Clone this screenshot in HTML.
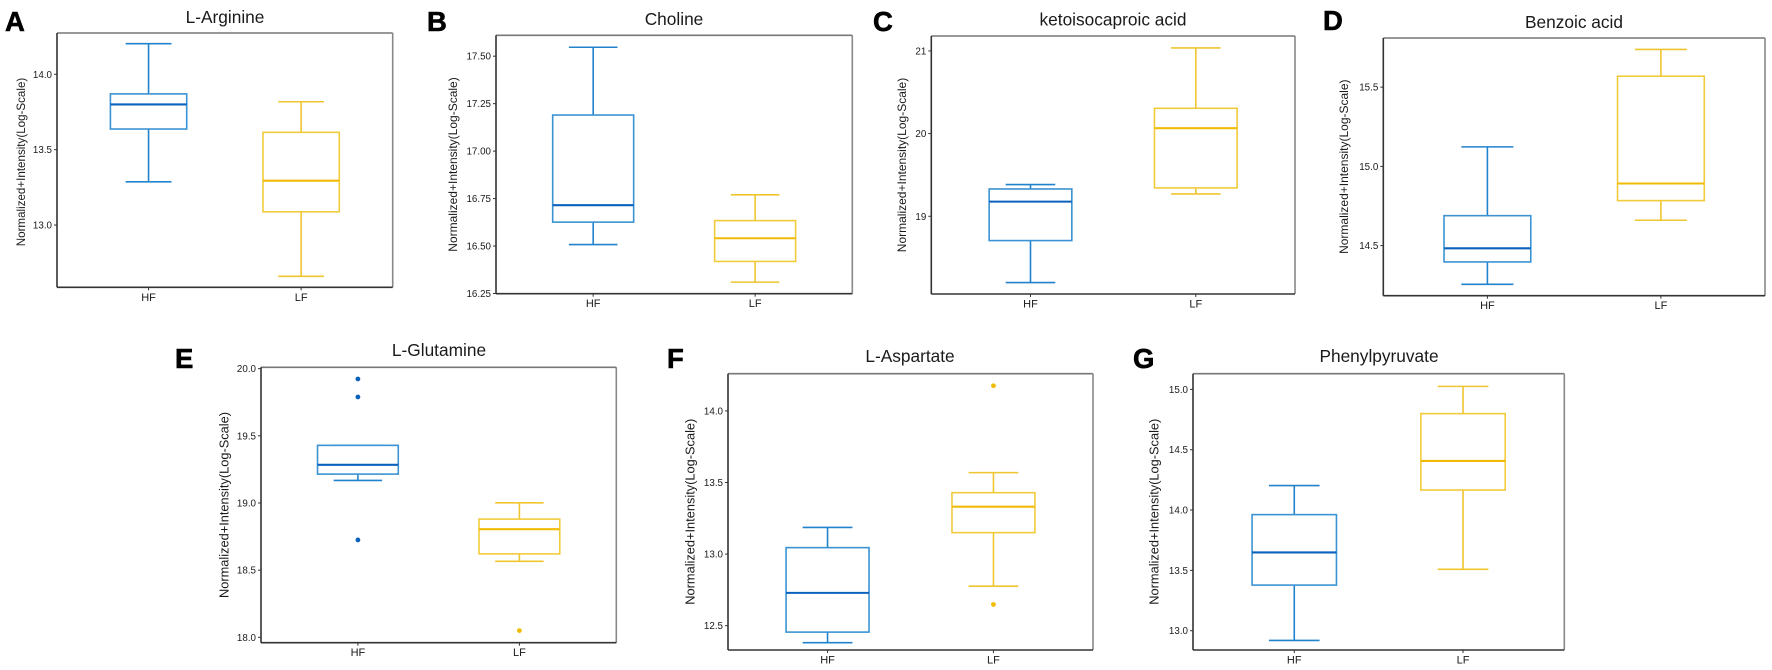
<!DOCTYPE html>
<html lang="en">
<head>
<meta charset="utf-8">
<title>Metabolite box plots</title>
<style>
html,body{margin:0;padding:0;background:#fff;}
#figure{display:block;width:1772px;height:670px;background:#fff;font-family:"Liberation Sans",sans-serif;filter:blur(0.3px);}
text{font-family:"Liberation Sans",sans-serif;fill:#1a1a1a;}
text.panel-letter{fill:#000;stroke:#000;stroke-width:0.6px;}
</style>
</head>
<body>
<svg id="figure" xmlns="http://www.w3.org/2000/svg" width="1772" height="670" viewBox="0 0 1772 670"></svg>
<script>
// Shared categories
const categories = ["HF", "LF"];

// Each series is [lowerWhisker, q1, median, q3, upperWhisker]
const argTitle = "L-Arginine";
const argTicks = ["13.0", "13.5", "14.0"];
const argDomain = [12.587, 14.274];
const argHF = [13.287, 13.637, 13.80, 13.87, 14.203];
const argLF = [12.66, 13.088, 13.294, 13.615, 13.818];
const argOutHF = [];
const argOutLF = [];

const choTitle = "Choline";
const choTicks = ["16.25", "16.50", "16.75", "17.00", "17.25", "17.50"];
const choDomain = [16.249, 17.61];
const choHF = [16.508, 16.626, 16.715, 17.19, 17.547];
const choLF = [16.31, 16.419, 16.541, 16.634, 16.77];
const choOutHF = [];
const choOutLF = [];

const ketoTitle = "ketoisocaproic acid";
const ketoTicks = ["19", "20", "21"];
const ketoDomain = [18.06, 21.18];
const ketoHF = [18.198, 18.706, 19.177, 19.33, 19.383];
const ketoLF = [19.27, 19.343, 20.065, 20.306, 21.036];
const ketoOutHF = [];
const ketoOutLF = [];

const benzTitle = "Benzoic acid";
const benzTicks = ["14.5", "15.0", "15.5"];
const benzDomain = [14.184, 15.81];
const benzHF = [14.256, 14.397, 14.483, 14.689, 15.123];
const benzLF = [14.66, 14.784, 14.892, 15.569, 15.738];
const benzOutHF = [];
const benzOutLF = [];

const glnTitle = "L-Glutamine";
const glnTicks = ["18.0", "18.5", "19.0", "19.5", "20.0"];
const glnDomain = [17.96, 20.01];
const glnHF = [19.168, 19.215, 19.284, 19.429, 19.429];
const glnLF = [18.566, 18.621, 18.805, 18.88, 19.001];
const glnOutHF = [19.923, 19.789, 18.725];
const glnOutLF = [18.05];

const aspTitle = "L-Aspartate";
const aspTicks = ["12.5", "13.0", "13.5", "14.0"];
const aspDomain = [12.33, 14.26];
const aspHF = [12.381, 12.455, 12.729, 13.045, 13.186];
const aspLF = [12.776, 13.15, 13.331, 13.429, 13.569];
const aspOutHF = [];
const aspOutLF = [14.176, 12.648];

const pheTitle = "Phenylpyruvate";
const pheTicks = ["13.0", "13.5", "14.0", "14.5", "15.0"];
const pheDomain = [12.84, 15.13];
const pheHF = [12.919, 13.378, 13.649, 13.962, 14.203];
const pheLF = [13.509, 14.166, 14.407, 14.799, 15.025];
const pheOutHF = [];
const pheOutLF = [];

const SVGNS = "http://www.w3.org/2000/svg";
const svg = document.getElementById("figure");

function mk(tag, parent, attrs) {
  const n = document.createElementNS(SVGNS, tag);
  for (const k in attrs) n.setAttribute(k, attrs[k]);
  parent.appendChild(n);
  return n;
}

function makeX(frame) {
  // discrete ggplot-style axis: 0.4 .. 2.6
  const unit = (frame.right - frame.left) / 2.2;
  return function (pos) { return frame.left + (pos - 0.4) * unit; };
}

function makeY(frame, domain) {
  return function (v) {
    return frame.bottom - (v - domain[0]) / (domain[1] - domain[0]) * (frame.bottom - frame.top);
  };
}

function drawBox(g, stats, outliers, pos, x, y, colors) {
  const cx = x(pos);
  const bl = x(pos - 0.25), br = x(pos + 0.25);
  const cl = x(pos - 0.15), cr = x(pos + 0.15);

  const upper = mk("line", g, {x1: cx, x2: cx, y1: y(stats[3]), y2: y(stats[4]), stroke: colors.whisker, "stroke-width": 1.6});
  
  

  const lower = mk("line", g, {x1: cx, x2: cx, y1: y(stats[1]), y2: y(stats[0]), stroke: colors.whisker, "stroke-width": 1.6});
  
  

  const capTop = mk("line", g, {x1: cl, x2: cr, y1: y(stats[4]), y2: y(stats[4]), stroke: colors.whisker, "stroke-width": 1.6});
  
  

  const capBottom = mk("line", g, {x1: cl, x2: cr, y1: y(stats[0]), y2: y(stats[0]), stroke: colors.whisker, "stroke-width": 1.6});
  
  

  const rect = mk("rect", g, {x: bl, width: br - bl, y: y(stats[3]), height: y(stats[1]) - y(stats[3]), fill: "#fff", stroke: colors.box, "stroke-width": 1.6});
  
  

  const med = mk("line", g, {x1: bl, x2: br, y1: y(stats[2]), y2: y(stats[2]), stroke: colors.median, "stroke-width": 2.1});
  
  

  outliers.forEach(function (v) {
    const dot = mk("circle", g, {cx: cx, cy: y(v), r: 2.4, fill: colors.median});
    
    
  });
}

const blue = {box: "#3b93d3", whisker: "#2283cd", median: "#0a62bd"};
const yellow = {box: "#f2cb3c", whisker: "#efc530", median: "#f0bb06"};

function drawPanel(p) {
  const f = p.frame;
  const x = makeX(f);
  const y = makeY(f, p.domain);

  const g = mk("g", svg, {});
  
  

  const letter = mk("text", g, {x: p.letterX, y: p.letterY, "font-size": 27.5, "font-weight": "bold", class: "panel-letter"});
  
  
  letter.textContent = p.letter;

  const title = mk("text", g, {x: p.titleX, y: p.titleY, "font-size": 17.3, "text-anchor": "middle"});
  
  
  title.textContent = p.title;

  const yTitle = mk("text", g, {transform: "translate(" + p.yTitleX + "," + p.yTitleY + ") rotate(-90)", "font-size": p.yTitleSize, "text-anchor": "middle", "dominant-baseline": "central"});
  
  
  yTitle.textContent = "Normalized+Intensity(Log-Scale)";

  const topLine = mk("line", g, {x1: f.left, x2: f.right, y1: f.top, y2: f.top, stroke: "#777", "stroke-width": 1.6});
  
  

  const rightLine = mk("line", g, {x1: f.right, x2: f.right, y1: f.top, y2: f.bottom, stroke: "#888", "stroke-width": 1.6});
  
  

  const leftLine = mk("line", g, {x1: f.left, x2: f.left, y1: f.top, y2: f.bottom, stroke: "#333", "stroke-width": 1.6});
  
  

  const bottomLine = mk("line", g, {x1: f.left, x2: f.right, y1: f.bottom, y2: f.bottom, stroke: "#333", "stroke-width": 1.6});
  
  

  p.ticks.forEach(function (label) {
    const ty = y(parseFloat(label));
    const t = mk("line", g, {x1: f.left - 3, x2: f.left, y1: ty, y2: ty, stroke: "#333", "stroke-width": 1});
    
    
    const tl = mk("text", g, {x: f.left - 5, y: ty + 3.5, "font-size": 9.8, "text-anchor": "end"});
    
    
    tl.textContent = label;
  });

  categories.forEach(function (cat, i) {
    const cx = x(i + 1);
    const t = mk("line", g, {x1: cx, x2: cx, y1: f.bottom, y2: f.bottom + 3, stroke: "#333", "stroke-width": 1});
    
    
    const tl = mk("text", g, {x: cx, y: f.bottom + 13.5, "font-size": 11, "text-anchor": "middle"});
    
    
    tl.textContent = cat;
  });

  const hf = mk("g", g, {});
  
  
  drawBox(hf, p.hf, p.outHF, 1, x, y, blue);

  const lf = mk("g", g, {});
  
  
  drawBox(lf, p.lf, p.outLF, 2, x, y, yellow);
}

drawPanel({letter: "A", letterX: 5, letterY: 31, title: argTitle, titleX: 225, titleY: 23,
  yTitleX: 21.5, yTitleY: 162, yTitleSize: 11.6, frame: {left: 57, right: 392.7, top: 33, bottom: 287.3},
  domain: argDomain, ticks: argTicks, hf: argHF, lf: argLF, outHF: argOutHF, outLF: argOutLF});

drawPanel({letter: "B", letterX: 427, letterY: 31, title: choTitle, titleX: 674, titleY: 25,
  yTitleX: 453, yTitleY: 164.5, yTitleSize: 12, frame: {left: 496, right: 852.3, top: 35.3, bottom: 293.7},
  domain: choDomain, ticks: choTicks, hf: choHF, lf: choLF, outHF: choOutHF, outLF: choOutLF});

drawPanel({letter: "C", letterX: 873, letterY: 31, title: ketoTitle, titleX: 1113, titleY: 25.5,
  yTitleX: 902, yTitleY: 165, yTitleSize: 12, frame: {left: 931.3, right: 1295, top: 36, bottom: 294},
  domain: ketoDomain, ticks: ketoTicks, hf: ketoHF, lf: ketoLF, outHF: ketoOutHF, outLF: ketoOutLF});

drawPanel({letter: "D", letterX: 1323, letterY: 30, title: benzTitle, titleX: 1574, titleY: 28,
  yTitleX: 1344, yTitleY: 166.7, yTitleSize: 12, frame: {left: 1383.3, right: 1765, top: 38, bottom: 295.7},
  domain: benzDomain, ticks: benzTicks, hf: benzHF, lf: benzLF, outHF: benzOutHF, outLF: benzOutLF});

drawPanel({letter: "E", letterX: 175, letterY: 368, title: glnTitle, titleX: 439, titleY: 356,
  yTitleX: 224, yTitleY: 505, yTitleSize: 12.8, frame: {left: 261, right: 616.3, top: 367.3, bottom: 642.7},
  domain: glnDomain, ticks: glnTicks, hf: glnHF, lf: glnLF, outHF: glnOutHF, outLF: glnOutLF});

drawPanel({letter: "F", letterX: 667, letterY: 368, title: aspTitle, titleX: 910, titleY: 362,
  yTitleX: 690, yTitleY: 511.7, yTitleSize: 12.8, frame: {left: 728, right: 1093, top: 373.7, bottom: 650},
  domain: aspDomain, ticks: aspTicks, hf: aspHF, lf: aspLF, outHF: aspOutHF, outLF: aspOutLF});

drawPanel({letter: "G", letterX: 1133, letterY: 368, title: pheTitle, titleX: 1379, titleY: 362,
  yTitleX: 1154, yTitleY: 511.7, yTitleSize: 12.8, frame: {left: 1193, right: 1564.3, top: 373.7, bottom: 650},
  domain: pheDomain, ticks: pheTicks, hf: pheHF, lf: pheLF, outHF: pheOutHF, outLF: pheOutLF});
</script>
</body>
</html>
